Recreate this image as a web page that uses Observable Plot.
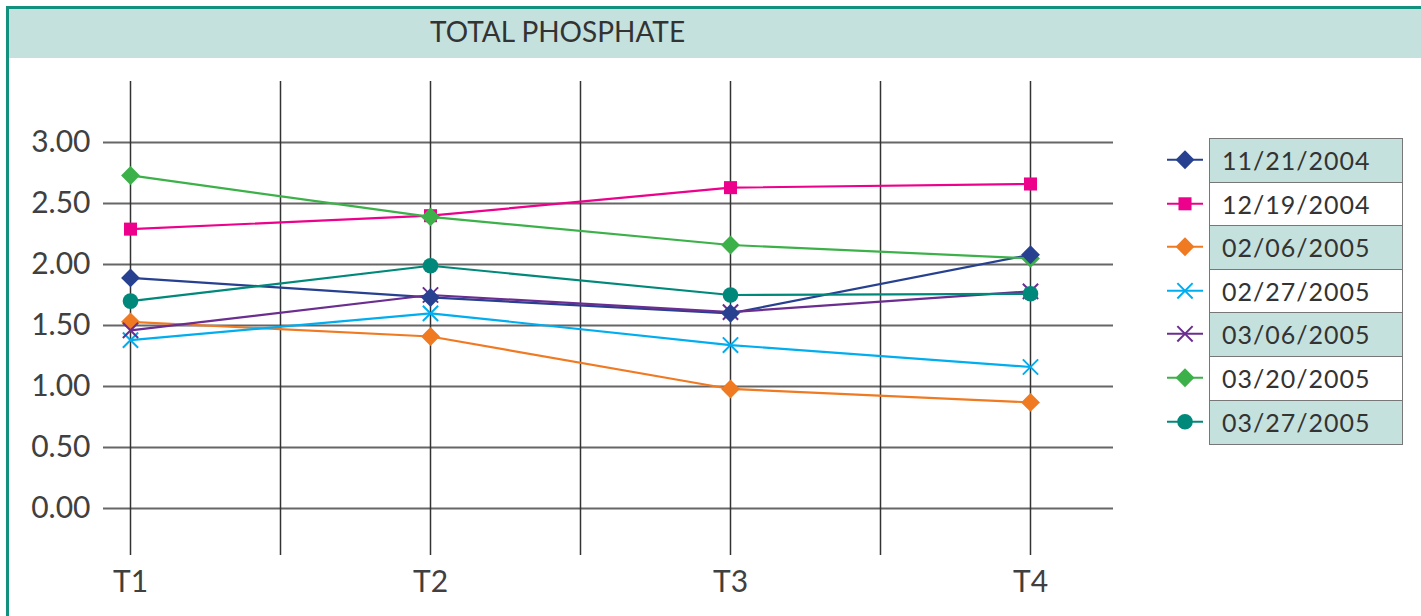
<!DOCTYPE html>
<html><head><meta charset="utf-8">
<script src="https://cdn.jsdelivr.net/npm/d3@7"></script>
<script src="https://cdn.jsdelivr.net/npm/@observablehq/plot@0.6"></script>
<style>
body{margin:0;background:#fff;width:1421px;height:616px;overflow:hidden;position:relative;font-family:Lato,sans-serif;}
#frame{position:absolute;left:6px;top:6px;width:1500px;height:700px;border-top:3px solid #13907e;border-left:3px solid #13907e;}
#band{position:absolute;left:9px;top:9px;right:0;height:49px;background:#c5e1dd;}
#title{position:absolute;left:430px;top:15px;font-size:28px;line-height:1.2;color:#333;white-space:nowrap;}
#chart{position:absolute;left:0;top:60px;}
.lrow{position:absolute;left:1209px;width:194px;box-sizing:border-box;border:1.5px solid #777;font-size:25px;color:#333;padding-left:12px;letter-spacing:1px;white-space:nowrap;}
.lmark{position:absolute;left:1160px;width:50px;}
</style></head>
<body>
<div id="frame"></div>
<div id="band"></div>
<div id="title">TOTAL PHOSPHATE</div>
<div id="chart"></div>
<div id="legend"></div>
<script>
const periods = ["T1", "T2", "T3", "T4"];
const seriesNames = ["11/21/2004", "12/19/2004", "02/06/2005", "02/27/2005", "03/06/2005", "03/20/2005", "03/27/2005"];
const seriesColors = ["#27408f", "#ec008c", "#f07a22", "#00aeef", "#6b2d8f", "#3cb149", "#00897a"];
const seriesSymbols = ["diamond2", "square2", "diamond2", "times", "times", "diamond2", "circle"];
const seriesRadius = [8.5, 8.3, 8.5, 7, 7, 8.5, 7.8];
const v20041121 = [1.89, 1.73, 1.60, 2.08];
const v20041219 = [2.29, 2.40, 2.63, 2.66];
const v20050206 = [1.53, 1.41, 0.98, 0.87];
const v20050227 = [1.38, 1.60, 1.34, 1.16];
const v20050306 = [1.46, 1.75, 1.61, 1.78];
const v20050320 = [2.73, 2.39, 2.16, 2.05];
const v20050327 = [1.70, 1.99, 1.75, 1.76];
const yTicks = [0, 0.5, 1, 1.5, 2, 2.5, 3];
const seriesValues = [v20041121, v20041219, v20050206, v20050227, v20050306, v20050320, v20050327];

const series = seriesNames.map((name, i) => ({
  name, color: seriesColors[i], symbol: seriesSymbols[i], r: seriesRadius[i],
  data: seriesValues[i].map((v, j) => ({t: j + 1, v}))
}));
const drawOrder = [1, 2, 3, 4, 5, 6, 0];

const marks = [
  Plot.ruleY(yTicks, {stroke: "#666", strokeWidth: 2}),
  Plot.ruleX(d3.range(1, 4.01, 0.5), {y1: -0.385, y2: 3.5, stroke: "#333", strokeWidth: 1.5}),
  Plot.axisY({ticks: yTicks, tickFormat: d3.format(".2f"), tickSize: 0, tickPadding: 13, fontSize: 30, label: null}),
  Plot.axisX({ticks: [1, 2, 3, 4], tickFormat: d => periods[d - 1], tickSize: 0, tickPadding: 15, fontSize: 30, label: null})
];
for (const s of series) marks.push(Plot.line(s.data, {x: "t", y: "v", stroke: s.color, strokeWidth: 2.2}));
for (const i of drawOrder) {
  const s = series[i];
  if (s.symbol === "times") marks.push(Plot.dot(s.data, {x: "t", y: "v", symbol: s.symbol, r: s.r, stroke: s.color, strokeWidth: 2, fill: "none"}));
  else marks.push(Plot.dot(s.data, {x: "t", y: "v", symbol: s.symbol, r: s.r, fill: s.color, stroke: "none"}));
}

const chart = Plot.plot({
  width: 1421, height: 556,
  marginLeft: 103, marginRight: 308, marginTop: 21, marginBottom: 61,
  x: {type: "linear", domain: [0.91, 4.2767], axis: null},
  y: {domain: [-0.385, 3.5], axis: null},
  style: {fontFamily: "Lato, sans-serif", color: "#404040", background: "transparent", overflow: "visible"},
  marks
});
document.getElementById("chart").append(chart);

// legend
const legend = document.getElementById("legend");
const rowH = 43.6, top0 = 138;
const symMap = {diamond2: d3.symbolDiamond2, square2: d3.symbolSquare2, times: d3.symbolTimes, circle: d3.symbolCircle};
series.forEach((s, i) => {
  const row = document.createElement("div");
  row.className = "lrow";
  row.style.top = (top0 + i * rowH) + "px";
  row.style.height = (rowH + 1.5) + "px";
  row.style.lineHeight = (rowH - 1.5) + "px";
  row.style.background = i % 2 === 0 ? "#c5e1dd" : "#fff";
  row.textContent = s.name;
  legend.append(row);
  const svg = d3.create("svg").attr("class", "lmark").attr("width", 50).attr("height", rowH)
    .style("top", (top0 + i * rowH) + "px");
  const cy = rowH / 2, cx = 25;
  svg.append("line").attr("x1", cx - 18).attr("x2", cx + 18).attr("y1", cy).attr("y2", cy).attr("stroke", s.color).attr("stroke-width", 2);
  const path = svg.append("path").attr("transform", `translate(${cx},${cy})`)
    .attr("d", d3.symbol(symMap[s.symbol], s.r * s.r * Math.PI)());
  if (s.symbol === "times") path.attr("fill", "none").attr("stroke", s.color).attr("stroke-width", 2);
  else path.attr("fill", s.color);
  legend.append(svg.node());
});
</script>
</body></html>
